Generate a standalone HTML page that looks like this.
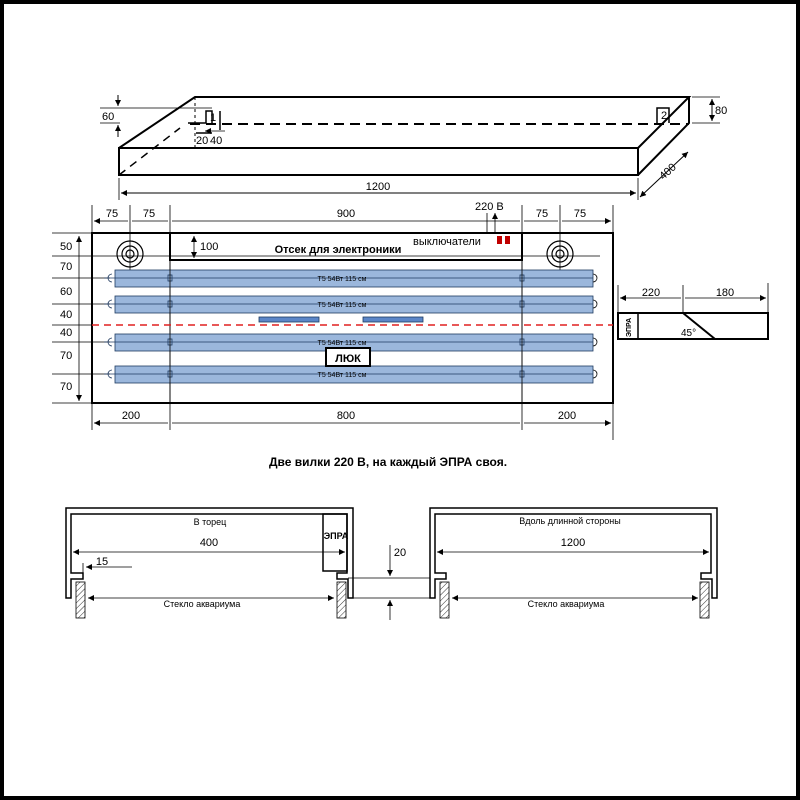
<!DOCTYPE html>
<html><head><meta charset="utf-8"><style>
html,body{margin:0;padding:0;background:#fff}
svg{display:block}
text{font-family:"Liberation Sans","Noto Sans CJK SC",sans-serif;fill:#000}
</style></head><body>
<svg width="800" height="800" viewBox="0 0 800 800" xmlns="http://www.w3.org/2000/svg">
<defs>
<marker id="a" viewBox="0 0 10 10" refX="10" refY="5" markerWidth="9" markerHeight="6" markerUnits="userSpaceOnUse" orient="auto-start-reverse"><path d="M0,0L10,5L0,10z" fill="#000"/></marker>
<pattern id="h" width="4" height="4" patternUnits="userSpaceOnUse" patternTransform="rotate(45)"><line x1="0" y1="0" x2="0" y2="4" stroke="#000" stroke-width="0.8"/></pattern>
</defs>
<rect x="2" y="2" width="796" height="796" fill="none" stroke="#000" stroke-width="4"/>

<!-- Iso box -->
<g stroke="#000" fill="none">
<rect x="119" y="148" width="519" height="27" stroke-width="2"/>
<path d="M119,148L195,97L689,97L638,148M689,97L689,123L638,175" stroke-width="2"/>
<path d="M190,124L689,124" stroke-width="2" stroke-dasharray="10,6"/>
<path d="M119,175L180,128" stroke-width="1.5" stroke-dasharray="8,6"/>
<path d="M195,97L195,150" stroke-width="1" stroke-dasharray="3,3"/>
<path d="M188,123L206,123L206,111L212,111L212,123M196,133L212,133" stroke-width="1.5"/>
<path d="M220,111L220,130" stroke-width="1.5"/>
<path d="M657,123L657,108L669,108L669,123" stroke-width="1.5"/>
<path d="M100,108L212,108M100,123L120,123" stroke-width="0.8"/>
<path d="M118,95L118,106" stroke-width="1" marker-end="url(#a)"/>
<path d="M118,137L118,125" stroke-width="1" marker-end="url(#a)"/>
<path d="M225,131L205,131" stroke-width="0.8" marker-end="url(#a)"/>
<path d="M692,97L720,97M692,123L720,123" stroke-width="0.8"/>
<path d="M712,99L712,121" stroke-width="1" marker-start="url(#a)" marker-end="url(#a)"/>
<path d="M119,178L119,200M638,178L638,200" stroke-width="0.8"/>
<path d="M121,193L636,193" stroke-width="1" marker-start="url(#a)" marker-end="url(#a)"/>
<path d="M640,197L688,152" stroke-width="1" marker-start="url(#a)" marker-end="url(#a)"/>
</g>
<text x="102" y="120" font-size="11">60</text>
<text x="210" y="121" font-size="11">1</text>
<text x="196" y="144" font-size="11">20</text>
<text x="210" y="144" font-size="11">40</text>
<text x="661" y="119" font-size="11">2</text>
<text x="715" y="114" font-size="11">80</text>
<text x="378" y="190" font-size="11" text-anchor="middle">1200</text>
<text x="660" y="180" font-size="11" transform="rotate(-42 662 176)">400</text>

<!-- Main panel -->
<g stroke="#000" fill="none">
<rect x="92" y="233" width="521" height="170" stroke-width="2"/>
<rect x="170" y="233" width="352" height="27" stroke-width="2"/>
<path d="M92,205L92,430M613,205L613,440M170,205L170,430M522,205L522,430M130,205L130,270M560,205L560,270" stroke-width="0.8"/>
<path d="M94,221L128,221M132,221L168,221M172,221L520,221M524,221L558,221M562,221L611,221" stroke-width="0.8" marker-start="url(#a)" marker-end="url(#a)"/>
<path d="M94,423L168,423M172,423L520,423M524,423L611,423" stroke-width="0.8" marker-start="url(#a)" marker-end="url(#a)"/>
<path d="M52,233L92,233M52,256L600,256M52,278L110,278M52,304L110,304M52,325L92,325M52,342L110,342M52,374L110,374M52,403L92,403" stroke-width="0.8"/>
<path d="M79,236L79,401" stroke-width="0.8" marker-start="url(#a)" marker-end="url(#a)"/>
<path d="M194,236L194,258" stroke-width="0.8" marker-start="url(#a)" marker-end="url(#a)"/>
<path d="M487,233L487,213M495,233L495,213" stroke-width="0.8" marker-end="url(#a)"/>
<circle cx="130" cy="254" r="13" stroke-width="1.2"/><circle cx="130" cy="254" r="8" stroke-width="1.2"/><circle cx="130" cy="254" r="4" stroke-width="1.2"/>
<circle cx="560" cy="254" r="13" stroke-width="1.2"/><circle cx="560" cy="254" r="8" stroke-width="1.2"/><circle cx="560" cy="254" r="4" stroke-width="1.2"/>
</g>
<rect x="497" y="236" width="5" height="8" fill="#c00000"/><rect x="505" y="236" width="5" height="8" fill="#c00000"/>
<text x="475" y="210" font-size="11">220 В</text>
<text x="200" y="250" font-size="11">100</text>
<text x="338" y="253" font-size="11" font-weight="bold" text-anchor="middle">Отсек для электроники</text>
<text x="413" y="245" font-size="11">выключатели</text>
<g font-size="11">
<text x="112" y="217" text-anchor="middle">75</text><text x="149" y="217" text-anchor="middle">75</text>
<text x="346" y="217" text-anchor="middle">900</text>
<text x="542" y="217" text-anchor="middle">75</text><text x="580" y="217" text-anchor="middle">75</text>
<text x="131" y="419" text-anchor="middle">200</text><text x="346" y="419" text-anchor="middle">800</text><text x="567" y="419" text-anchor="middle">200</text>
<text x="60" y="250">50</text><text x="60" y="270">70</text><text x="60" y="295">60</text><text x="60" y="318">40</text><text x="60" y="336">40</text><text x="60" y="359">70</text><text x="60" y="390">70</text>
</g>
<g stroke="#1f3a60" stroke-width="0.8">
<g id="t"><rect x="115" y="270" width="478" height="17" fill="#9bb7dc"/><line x1="104" y1="278" x2="593" y2="278"/>
<path d="M112,274A4,4 0 0 0 112,282" fill="none"/><path d="M593,274A4,4 0 0 1 593,282" fill="none" stroke="#000"/>
<rect x="168" y="275" width="4" height="6" fill="none"/><rect x="520" y="275" width="4" height="6" fill="none"/></g>
<use href="#t" y="26"/><use href="#t" y="64"/><use href="#t" y="96"/>
<rect x="259" y="317" width="60" height="5" fill="#5b86c8"/><rect x="363" y="317" width="60" height="5" fill="#5b86c8"/>
</g>
<line x1="170" y1="256" x2="170" y2="403" stroke="#000" stroke-width="0.8"/><line x1="522" y1="256" x2="522" y2="403" stroke="#000" stroke-width="0.8"/>
<g font-size="7" fill="#203050" text-anchor="middle"><text x="342" y="281">T5 54Вт 115 см</text><text x="342" y="307">T5 54Вт 115 см</text><text x="342" y="345">T5 54Вт 115 см</text><text x="342" y="377">T5 54Вт 115 см</text></g>
<line x1="92" y1="325" x2="613" y2="325" stroke="#e02020" stroke-width="1.5" stroke-dasharray="7,5"/>
<rect x="326" y="348" width="44" height="18" fill="#fff" stroke="#000" stroke-width="2"/>
<text x="348" y="362" font-size="11" font-weight="bold" text-anchor="middle">ЛЮК</text>

<!-- EPRA side -->
<g stroke="#000" fill="none">
<rect x="618" y="313" width="150" height="26" stroke-width="2"/>
<path d="M638,313L638,339" stroke-width="1.5"/>
<path d="M683,313L715,339" stroke-width="2"/>
<path d="M618,285L618,312M683,285L683,313M768,283L768,312" stroke-width="0.8"/>
<path d="M620,298L681,298M685,298L766,298" stroke-width="0.8" marker-start="url(#a)" marker-end="url(#a)"/>
</g>
<text x="651" y="296" font-size="11" text-anchor="middle">220</text><text x="725" y="296" font-size="11" text-anchor="middle">180</text>
<text x="631" y="337" font-size="7" font-weight="bold" transform="rotate(-90 631 337)">ЭПРА</text>
<text x="681" y="336" font-size="10">45°</text>

<text x="388" y="466" font-size="12" font-weight="bold" text-anchor="middle">Две вилки 220 В, на каждый ЭПРА своя.</text>

<!-- Bottom profiles -->
<g stroke="#000" stroke-width="1.5" fill="#fff">
<path d="M66,598L66,508L353,508L353,598L348,598L348,579L337,579L337,573L347,573L347,514L71,514L71,573L83,573L83,579L71,579L71,598Z"/>
<rect x="323" y="514" width="24" height="57" fill="none"/>
<path d="M430,598L430,508L717,508L717,598L712,598L712,579L701,579L701,573L711,573L711,514L435,514L435,573L446,573L446,579L435,579L435,598Z"/>
</g>
<g stroke="#000" stroke-width="0.8" fill="url(#h)">
<rect x="76" y="582" width="9" height="36"/><rect x="337" y="582" width="9" height="36"/>
<rect x="440" y="582" width="9" height="36"/><rect x="700" y="582" width="9" height="36"/>
</g>
<g stroke="#000" stroke-width="0.8" fill="none">
<path d="M73,552L345,552" marker-start="url(#a)" marker-end="url(#a)"/>
<path d="M88,598L334,598" marker-start="url(#a)" marker-end="url(#a)"/>
<path d="M437,552L709,552" marker-start="url(#a)" marker-end="url(#a)"/>
<path d="M452,598L698,598" marker-start="url(#a)" marker-end="url(#a)"/>
<path d="M83,563L83,575M132,567L86,567" marker-end="url(#a)"/>
<path d="M348,578L430,578M353,598L430,598"/>
<path d="M390,545L390,576" marker-end="url(#a)"/><path d="M390,620L390,600" marker-end="url(#a)"/>
</g>
<g font-size="10" text-anchor="middle">
<text x="210" y="525" font-size="9">В торец</text>
<text x="209" y="546" font-size="11">400</text>
<text x="336" y="539" font-size="9" font-weight="bold">ЭПРА</text>
<text x="102" y="565" font-size="11">15</text>
<text x="400" y="556" font-size="11">20</text>
<text x="202" y="607" font-size="9">Стекло аквариума</text>
<text x="570" y="524" font-size="9">Вдоль длинной стороны</text>
<text x="573" y="546" font-size="11">1200</text>
<text x="566" y="607" font-size="9">Стекло аквариума</text>
</g>
</svg>
</body></html>
